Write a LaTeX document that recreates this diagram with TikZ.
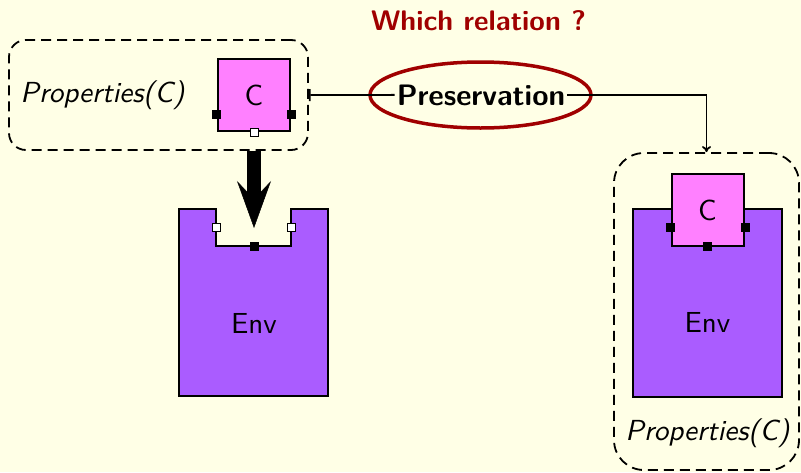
\documentclass[tikz,border=0pt]{standalone}
\usepackage{fontspec}
\setsansfont{lmsans10-regular.otf}[BoldFont=lmsans10-bold.otf,ItalicFont=lmsans10-oblique.otf,BoldItalicFont=lmsans10-boldoblique.otf]
\usetikzlibrary{arrows.meta,shapes.geometric}
\definecolor{bg}{RGB}{255,255,230}
\definecolor{cfill}{RGB}{255,128,255}
\definecolor{envfill}{RGB}{170,92,255}
\definecolor{dred}{RGB}{160,0,0}
\begin{document}
\begin{tikzpicture}[x=1pt,y=-1pt,
  font=\sffamily\fontsize{29}{34}\selectfont,
  txt/.style={anchor=base,inner sep=0pt},
  cbox/.style={draw,line width=2pt,fill=cfill,minimum width=72pt,minimum height=72pt,inner sep=0pt},
  envbox/.style={draw,line width=2pt,fill=envfill,inner sep=0pt},
  propbox/.style={draw,line width=1.8pt,dash pattern=on 10pt off 6pt,inner sep=0pt},
  bport/.style={draw,line width=0.8pt,fill=black,minimum size=8pt,inner sep=0pt},
  wport/.style={draw,line width=0.8pt,fill=white,minimum size=8pt,inner sep=0pt},
  conn/.style={line width=1.8pt},
  bigarrow/.style={line width=14pt,-{Stealth[length=47pt,width=34pt,inset=18pt,line width=0.5pt]}}
]
\fill[bg] (0,0) rectangle (801,472);
\useasboundingbox (0,0) rectangle (801,472);

% title
\node[txt,text=dred,font=\sffamily\bfseries\fontsize{28.3}{34}\selectfont] (title) at (478.5,30) {Which relation ?};

% left side
\node[propbox,rounded corners=17pt,minimum width=299pt,minimum height=110pt] (propL) at (158.5,95) {};
\node[txt] (propLtxt) at (102.5,102) {\itshape Properties(C)};
\node[cbox] (cL) at (254,95) {};
\node[txt] (cLtxt) at (254,105) {C};
\node[bport] (cLw) at (216,114) {};
\node[bport] (cLe) at (291,114) {};
\node[wport] (cLs) at (254,132) {};

% left env (U shape)
\draw[line width=2pt,fill=envfill] (179,209) -- (216,209) -- (216,246) -- (291,246) -- (291,209) -- (328,209) -- (328,396) -- (179,396) -- cycle;
\coordinate (notch) at (254,228);
\node[txt] (envLtxt) at (254,333) {Env};
\node[wport] (eLw) at (216,227.5) {};
\node[wport] (eLe) at (291,227.5) {};
\node[bport] (eLs) at (254,246) {};

\draw[bigarrow] (propL.south -| cL.south) -- (notch);

% relation
\node[draw=dred,line width=3.5pt,ellipse,minimum width=221pt,minimum height=66pt] (ell) at (480.5,95) {};
\node[anchor=base,inner sep=2pt,font=\sffamily\bfseries\fontsize{29.6}{34}\selectfont] (pres) at (481,105) {Preservation};

% right side
\node[propbox,rounded corners=30pt,minimum width=185pt,minimum height=317pt] (propR) at (706.5,311.5) {};
\node[envbox,minimum width=149pt,minimum height=188pt] (envR) at (707.5,303) {};
\node[cbox] (cR) at (707.5,209.5) {};
\node[txt] (cRtxt) at (707.5,220) {C};
\node[bport] (cRw) at (670,227) {};
\node[bport] (cRe) at (745,227) {};
\node[bport] (cRs) at (707.5,246) {};
\node[txt] (envRtxt) at (707.5,332) {Env};
\node[txt] (propRtxt) at (707.5,440) {\itshape Properties(C)};

% connectors
\draw[conn,{Bar[width=12pt]}-] (propL.east |- cL.center) -- (pres.west);
\draw[conn,-{Computer Modern Rightarrow[length=6pt,width=9pt]}] (pres.east) -- (pres.east -| propR.north) -- (propR.north);
\end{tikzpicture}
\end{document}
